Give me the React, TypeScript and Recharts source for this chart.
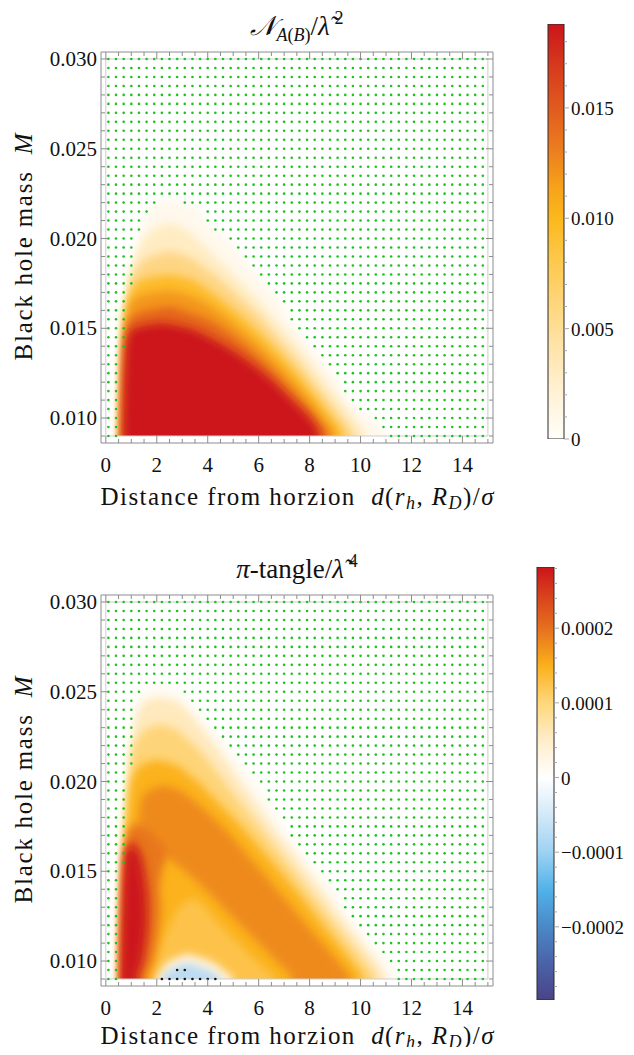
import { ComposedChart, Area, Scatter, XAxis, YAxis, ReferenceArea, BarChart, Bar } from 'recharts'

const SERIF = "'Liberation Serif', 'DejaVu Serif', serif"
const FRAME = '#8c8c8c'
const INK = '#111'

// axes shared by both density panels (frame padding included)
const dDomain = [-0.19, 15.2]
const mDomain = [0.00861, 0.03039]
const dRange = [0, 15]
const mRange = [0.009, 0.03]
const dTicks = [0, 0.5, 1, 1.5, 2, 2.5, 3, 3.5, 4, 4.5, 5, 5.5, 6, 6.5, 7, 7.5, 8, 8.5, 9, 9.5, 10, 10.5, 11, 11.5, 12, 12.5, 13, 13.5, 14, 14.5, 15]
const dMajor = [0, 2, 4, 6, 8, 10, 12, 14]
const mTicks = [0.009, 0.01, 0.011, 0.012, 0.013, 0.014, 0.015, 0.016, 0.017, 0.018, 0.019, 0.02, 0.021, 0.022, 0.023, 0.024, 0.025, 0.026, 0.027, 0.028, 0.029, 0.03]
const mMajor = [0.01, 0.015, 0.02, 0.025, 0.03]

// sampling grid of the scan
const gridD = [0.1, 0.4, 0.7, 1.0, 1.3, 1.6, 1.9, 2.2, 2.5, 2.8, 3.1, 3.4, 3.7, 4.0, 4.3, 4.6, 4.9, 5.2, 5.5, 5.8, 6.1, 6.4, 6.7, 7.0, 7.3, 7.6, 7.9, 8.2, 8.5, 8.8, 9.1, 9.4, 9.7, 10.0, 10.3, 10.6, 10.9, 11.2, 11.5, 11.8, 12.1, 12.4, 12.7, 13.0, 13.3, 13.6, 13.9, 14.2, 14.5, 14.8]
const gridM = [0.009, 0.0095, 0.01, 0.0105, 0.011, 0.0115, 0.012, 0.0125, 0.013, 0.0135, 0.014, 0.0145, 0.015, 0.0155, 0.016, 0.0165, 0.017, 0.0175, 0.018, 0.0185, 0.019, 0.0195, 0.02, 0.0205, 0.021, 0.0215, 0.022, 0.0225, 0.023, 0.0235, 0.024, 0.0245, 0.025, 0.0255, 0.026, 0.0265, 0.027, 0.0275, 0.028, 0.0285, 0.029, 0.0295, 0.03]

// rows: [M, left d, right d] of the region above a level
type Row = number[]

// negativity N_A(B)/λ²
const nOuter: Row[] = [
  [0.009, 0.52, 11.05], [0.0095, 0.53, 10.75], [0.01, 0.54, 10.45], [0.0105, 0.55, 9.85],
  [0.011, 0.56, 9.55], [0.0115, 0.57, 9.3], [0.012, 0.58, 9.2], [0.0125, 0.6, 8.95],
  [0.013, 0.62, 8.65], [0.0135, 0.65, 8.35], [0.014, 0.72, 8.05], [0.0145, 0.74, 7.75],
  [0.015, 0.76, 7.45], [0.0155, 0.79, 7.2], [0.016, 0.82, 7.05], [0.0165, 0.86, 6.85],
  [0.017, 0.9, 6.55], [0.0175, 1.02, 6.25], [0.018, 1.05, 5.95], [0.0185, 1.1, 5.65],
  [0.019, 1.16, 5.35], [0.0195, 1.22, 5.05], [0.02, 1.28, 4.75], [0.0205, 1.36, 4.2],
  [0.021, 1.48, 3.9], [0.0215, 1.62, 3.75], [0.022, 2.05, 3.0], [0.0222, 2.5, 2.5],
]
const n003: Row[] = [
  [0.009, 0.55, 10.2], [0.01, 0.56, 9.75], [0.011, 0.58, 9.2], [0.012, 0.6, 8.65], [0.013, 0.62, 8.1],
  [0.014, 0.65, 7.55], [0.015, 0.69, 6.95], [0.016, 0.74, 6.35], [0.017, 0.82, 5.7], [0.018, 0.95, 5.0],
  [0.019, 1.15, 4.3], [0.02, 1.5, 3.55], [0.0205, 1.85, 3.15], [0.0209, 2.5, 2.5],
]
const n006: Row[] = [
  [0.009, 0.57, 9.75], [0.01, 0.58, 9.3], [0.011, 0.6, 8.75], [0.012, 0.62, 8.2], [0.013, 0.64, 7.65],
  [0.014, 0.67, 7.05], [0.015, 0.71, 6.45], [0.016, 0.77, 5.8], [0.017, 0.87, 5.05], [0.018, 1.05, 4.25],
  [0.0185, 1.3, 3.75], [0.019, 1.75, 3.2], [0.0193, 2.5, 2.5],
]
const n009: Row[] = [
  [0.009, 0.59, 9.35], [0.01, 0.6, 8.9], [0.011, 0.62, 8.35], [0.012, 0.64, 7.8], [0.013, 0.67, 7.2],
  [0.014, 0.7, 6.55], [0.015, 0.74, 5.85], [0.016, 0.82, 5.05], [0.017, 0.98, 4.15], [0.0175, 1.2, 3.65],
  [0.0178, 1.6, 3.2], [0.018, 2.5, 2.5],
]
const n012: Row[] = [
  [0.009, 0.61, 9.0], [0.01, 0.62, 8.55], [0.011, 0.64, 8.0], [0.012, 0.66, 7.4], [0.013, 0.69, 6.75],
  [0.014, 0.72, 6.05], [0.015, 0.77, 5.25], [0.016, 0.88, 4.35], [0.0165, 1.0, 3.8], [0.0169, 1.5, 3.1],
  [0.0171, 2.5, 2.5],
]
const n015: Row[] = [
  [0.009, 0.63, 8.7], [0.01, 0.64, 8.25], [0.011, 0.66, 7.65], [0.012, 0.68, 7.0], [0.013, 0.71, 6.3],
  [0.014, 0.75, 5.5], [0.015, 0.82, 4.55], [0.0155, 0.95, 3.95], [0.0159, 1.4, 3.2], [0.0162, 2.5, 2.5],
]
const n0188: Row[] = [
  [0.009, 0.66, 8.38], [0.01, 0.67, 8.0], [0.011, 0.69, 7.3], [0.012, 0.71, 6.6], [0.013, 0.74, 5.75],
  [0.014, 0.79, 4.7], [0.0145, 0.85, 4.05], [0.0149, 1.0, 3.45], [0.0151, 1.35, 3.0], [0.0153, 2.2, 2.2],
]
const nLevels = [nOuter, n003, n006, n009, n012, n015, n0188]
const nColors = ['#fff8ec', '#ffecc2', '#fed585', '#fdbb2a', '#f3961d', '#e4631f', '#cc141a']

// π-tangle/λ⁴
const piOuter: Row[] = [
  [0.009, 0.5, 11.35], [0.0095, 0.5, 11.35], [0.01, 0.51, 11.05], [0.0105, 0.51, 10.75],
  [0.011, 0.52, 10.45], [0.0115, 0.53, 10.15], [0.012, 0.54, 9.85], [0.0125, 0.55, 9.55],
  [0.013, 0.56, 9.3], [0.0135, 0.58, 9.25], [0.014, 0.59, 8.95], [0.0145, 0.61, 8.65],
  [0.015, 0.63, 8.35], [0.0155, 0.72, 8.05], [0.016, 0.74, 7.75], [0.0165, 0.76, 7.5],
  [0.017, 0.78, 7.25], [0.0175, 0.8, 7.0], [0.018, 0.83, 6.8], [0.0185, 0.86, 6.55],
  [0.019, 0.89, 6.35], [0.0195, 0.92, 6.1], [0.02, 0.96, 5.9], [0.0205, 1.0, 5.6],
  [0.021, 1.03, 5.35], [0.0215, 1.05, 5.05], [0.022, 1.06, 4.75], [0.0225, 1.07, 4.45],
  [0.023, 1.08, 4.15], [0.0235, 1.1, 3.85], [0.024, 1.12, 3.55], [0.0245, 1.2, 3.25],
  [0.025, 1.35, 2.95], [0.0253, 2.1, 2.1],
]
const pi00005: Row[] = [
  [0.009, 0.53, 11.0], [0.01, 0.54, 10.6], [0.011, 0.55, 10.05], [0.012, 0.57, 9.5], [0.013, 0.59, 8.95],
  [0.014, 0.62, 8.45], [0.015, 0.65, 7.9], [0.016, 0.7, 7.35], [0.017, 0.74, 6.8], [0.018, 0.78, 6.3],
  [0.019, 0.82, 5.8], [0.02, 0.87, 5.3], [0.021, 0.93, 4.8], [0.022, 1.0, 4.3], [0.023, 1.1, 3.75],
  [0.024, 1.3, 3.15], [0.0245, 1.6, 2.7], [0.0247, 2.1, 2.1],
]
const pi0001: Row[] = [
  [0.009, 0.55, 10.6], [0.01, 0.56, 10.15], [0.011, 0.58, 9.6], [0.012, 0.6, 9.05], [0.013, 0.62, 8.5],
  [0.014, 0.65, 7.95], [0.015, 0.68, 7.4], [0.016, 0.72, 6.85], [0.017, 0.76, 6.3], [0.018, 0.8, 5.75],
  [0.019, 0.85, 5.2], [0.02, 0.9, 4.65], [0.021, 0.97, 4.1], [0.022, 1.1, 3.5], [0.0225, 1.3, 3.1],
  [0.023, 1.7, 2.6], [0.0232, 2.1, 2.1],
]
const pi00015: Row[] = [
  [0.009, 0.57, 10.1], [0.01, 0.58, 9.65], [0.011, 0.6, 9.1], [0.012, 0.62, 8.55], [0.013, 0.64, 8.0],
  [0.014, 0.67, 7.45], [0.015, 0.7, 6.85], [0.016, 0.74, 6.25], [0.017, 0.79, 5.65], [0.018, 0.84, 5.0],
  [0.019, 0.9, 4.3], [0.02, 1.0, 3.6], [0.0205, 1.15, 3.15], [0.021, 1.5, 2.6], [0.0212, 2.0, 2.0],
]
// dip between the streak and the ridge near the lightest masses
const piValley: Row[] = [
  [0.009, 1.8, 6.6], [0.01, 2.0, 5.9], [0.011, 2.2, 5.2], [0.012, 2.5, 4.5], [0.013, 2.9, 3.9], [0.0135, 3.3, 3.5],
]
const piValleyLow: Row[] = [
  [0.009, 2.0, 5.0], [0.0095, 2.2, 4.6], [0.01, 2.5, 4.1], [0.0104, 3.2, 3.2],
]
const piNegative: Row[] = [
  [0.009, 2.2, 4.5], [0.0095, 2.5, 4.0], [0.0099, 3.2, 3.2],
]
const piRidge: Row[] = [
  [0.009, 7.3, 9.6], [0.01, 6.7, 9.1], [0.011, 6.0, 8.5], [0.012, 5.3, 7.9], [0.013, 4.6, 7.3],
  [0.014, 3.9, 6.7], [0.015, 3.1, 6.1], [0.016, 2.2, 5.5], [0.017, 1.5, 4.9], [0.018, 1.3, 4.2],
  [0.019, 1.4, 3.4], [0.0195, 1.7, 2.9], [0.0198, 2.3, 2.3],
]
const piStreak: Row[] = [
  [0.009, 0.6, 1.6], [0.01, 0.61, 1.85], [0.011, 0.62, 2.0], [0.012, 0.64, 2.1], [0.013, 0.66, 2.15],
  [0.014, 0.69, 2.1], [0.015, 0.72, 2.2], [0.016, 0.76, 2.4], [0.017, 0.82, 1.9], [0.0175, 1.0, 1.5],
  [0.0177, 1.2, 1.2],
]
const piStreak25: Row[] = [
  [0.009, 0.62, 1.3], [0.01, 0.63, 1.5], [0.011, 0.64, 1.62], [0.012, 0.66, 1.7], [0.013, 0.68, 1.72],
  [0.014, 0.7, 1.68], [0.015, 0.73, 1.58], [0.016, 0.78, 1.42], [0.0168, 1.05, 1.1],
]
const piStreakTop: Row[] = [
  [0.009, 0.63, 1.15], [0.01, 0.64, 1.35], [0.011, 0.65, 1.45], [0.012, 0.67, 1.52], [0.013, 0.69, 1.52],
  [0.014, 0.71, 1.47], [0.015, 0.75, 1.37], [0.016, 0.82, 1.18], [0.0164, 0.98, 0.98],
]
const piLevels = [piOuter, pi00005, pi0001, pi00015, piValley, piValleyLow, piNegative, piRidge, piStreak, piStreak25, piStreakTop]
const piColors = ['#fffaf1', '#ffe9bd', '#fed478', '#fbb21c', '#fdc24a', '#fff3dc', '#bcdcf3', '#ee8a1e', '#e8761f', '#d8401d', '#cc141a']
// grid points where the π-tangle is negative
const piNegD = [2.2, 2.5, 2.8, 3.1, 3.4, 3.7, 4.0, 4.3, 2.8, 3.1]
const piNegM = [0.009, 0.009, 0.009, 0.009, 0.009, 0.009, 0.009, 0.009, 0.0095, 0.0095]

// colour bars
const nScale = [0, 0.0188]
const nScaleTicks = [0, 0.001, 0.002, 0.003, 0.004, 0.005, 0.006, 0.007, 0.008, 0.009, 0.01, 0.011, 0.012, 0.013, 0.014, 0.015, 0.016, 0.017, 0.018]
const nScaleLabels: [number, string][] = [[0, '0'], [0.005, '0.005'], [0.01, '0.010'], [0.015, '0.015']]
const nStops: [number, string][] = [
  [0.0188, '#cc141a'], [0.017, '#d6381d'], [0.015, '#e15a1f'], [0.013, '#ec801e'], [0.0115, '#f6a01b'],
  [0.01, '#fcb81c'], [0.008, '#fdc94e'], [0.006, '#fed77f'], [0.004, '#ffe5ad'], [0.002, '#fff2d7'], [0, '#fffefa'],
]
const piScale = [-0.000298, 0.000282]
const piScaleTicks = [-0.00028, -0.00026, -0.00024, -0.00022, -0.0002, -0.00018, -0.00016, -0.00014, -0.00012, -0.0001, -0.00008, -0.00006, -0.00004, -0.00002, 0, 0.00002, 0.00004, 0.00006, 0.00008, 0.0001, 0.00012, 0.00014, 0.00016, 0.00018, 0.0002, 0.00022, 0.00024, 0.00026, 0.00028]
const piScaleLabels: [number, string][] = [[-0.0002, '\u22120.0002'], [-0.0001, '\u22120.0001'], [0, '0'], [0.0001, '0.0001'], [0.0002, '0.0002']]
const piStops: [number, string][] = [
  [0.000282, '#cc141a'], [0.00025, '#d63a1d'], [0.0002, '#e6701f'], [0.00015, '#fbb01b'], [0.0001, '#fed77c'],
  [0.00005, '#ffedc9'], [0, '#ffffff'], [-0.00005, '#d3e9f8'], [-0.0001, '#9dd2f2'], [-0.00015, '#52b2e9'],
  [-0.0002, '#4a88c6'], [-0.00025, '#4a62a8'], [-0.000298, '#4a4388'],
]

const near = (a: number, b: number) => Math.abs(a - b) < 1e-9
const has = (list: number[], v: number) => list.some(x => near(x, v))

// lowest row is pushed below the frame so the blur keeps a hard bottom edge
const toData = (rows: Row[]) =>
  [[mDomain[0] - 0.0004, rows[0][1], rows[0][2]], ...rows].map(([M, L, R]) => ({ M, span: [L, R] }))

const maskData = [
  { M: mDomain[0] - 0.0004, span: dDomain },
  { M: mRange[0], span: dDomain },
]

// green markers on every grid point outside the non-zero region
function zeroPoints(outer: Row[]) {
  const pts: { d: number; M: number }[] = []
  gridM.forEach(M => {
    const row = outer.find(r => Math.abs(r[0] - M) < 1e-7)
    gridD.forEach(d => {
      if (!row || d < row[1] || d > row[2]) pts.push({ d, M })
    })
  })
  return pts
}

const dotShape = (color: string) => (p: any) => <circle cx={p.cx} cy={p.cy} r={1.3} fill={color} />

const dTick = (labels: boolean, dir: number) => (p: any) => {
  const v = p.payload.value
  const major = has(dMajor, v)
  return (
    <g>
      <line x1={p.x} x2={p.x} y1={p.y} y2={p.y - dir * (major ? 7 : 4)} stroke={FRAME} />
      {labels && major && (
        <text x={p.x} y={p.y + 29} textAnchor="middle" fontFamily={SERIF} fontSize={21} fill={INK}>{v}</text>
      )}
    </g>
  )
}

const mTick = (labels: boolean, dir: number) => (p: any) => {
  const v = p.payload.value
  const major = has(mMajor, v)
  return (
    <g>
      <line x1={p.x} x2={p.x + dir * (major ? 7 : 4)} y1={p.y} y2={p.y} stroke={FRAME} />
      {labels && major && (
        <text x={p.x - 4} y={p.y + 7} textAnchor="end" fontFamily={SERIF} fontSize={21} fill={INK}>{v.toFixed(3)}</text>
      )}
    </g>
  )
}

function DensityPanel({ id, top, levels, colors, outer, negD = [], negM = [] }: any) {
  const zeros = zeroPoints(outer)
  const negatives = negD.map((d: number, i: number) => ({ d, M: negM[i] }))
  return (
    <div style={{ position: 'absolute', left: 0, top }}>
      <ComposedChart layout="vertical" width={634} height={500} margin={{ top: 51, right: 140, bottom: 17, left: 41 }}>
        <defs>
          <filter id={`soft-${id}`} x="-50%" y="-50%" width="200%" height="200%">
            <feGaussianBlur stdDeviation={4} />
          </filter>
        </defs>
        {levels.map((rows: Row[], i: number) => (
          <Area key={i} data={toData(rows)} dataKey="span" type="monotone" fill={colors[i]} fillOpacity={1}
            stroke="none" filter={`url(#soft-${id})`} isAnimationActive={false} />
        ))}
        <Area data={maskData} dataKey="span" type="linear" fill="#ffffff" fillOpacity={1} stroke="none" isAnimationActive={false} />
        <ReferenceArea x1={dRange[0]} x2={dRange[1]} y1={mRange[0]} y2={mRange[1]} fill="none" stroke="#cdcdcd" strokeWidth={1} ifOverflow="visible" />
        <Scatter data={zeros} shape={dotShape('#1fc21f')} isAnimationActive={false} />
        {negatives.length > 0 && <Scatter data={negatives} shape={dotShape('#111')} isAnimationActive={false} />}
        <XAxis type="number" dataKey="d" domain={dDomain} ticks={dTicks} interval={0} allowDataOverflow height={40}
          axisLine={{ stroke: FRAME }} tickLine={false} tickSize={0} tickMargin={0} tick={dTick(true, 1)} />
        <XAxis xAxisId="top" orientation="top" type="number" dataKey="d" domain={dDomain} ticks={dTicks} interval={0}
          allowDataOverflow height={1} axisLine={{ stroke: FRAME }} tickLine={false} tickSize={0} tickMargin={0} tick={dTick(false, -1)} />
        <YAxis type="number" dataKey="M" domain={mDomain} ticks={mTicks} interval={0} reversed allowDataOverflow width={60}
          axisLine={{ stroke: FRAME }} tickLine={false} tickSize={0} tickMargin={0} tick={mTick(true, 1)} />
        <YAxis yAxisId="right" orientation="right" type="number" dataKey="M" domain={mDomain} ticks={mTicks} interval={0}
          reversed allowDataOverflow width={1} axisLine={{ stroke: FRAME }} tickLine={false} tickSize={0} tickMargin={0} tick={mTick(false, -1)} />
      </ComposedChart>
    </div>
  )
}

function ColorBar({ id, range, ticks, labels, stops, margin }: any) {
  const data = [{ name: id, span: range }]
  const labelOf = (v: number) => labels.find((l: [number, string]) => near(l[0], v))
  const tick = (p: any) => {
    const lab = labelOf(p.payload.value)
    return (
      <g>
        <line x1={p.x} x2={p.x + (lab ? 5 : 3)} y1={p.y} y2={p.y} stroke="#a8a8a8" />
        {lab && <text x={p.x + 7} y={p.y + 7} fontFamily={SERIF} fontSize={19} fill={INK}>{lab[1]}</text>}
      </g>
    )
  }
  return (
    <div style={{ position: 'absolute', left: 0, top: 0 }}>
      <BarChart width={634} height={1055} data={data} margin={margin} barCategoryGap={0}>
        <defs>
          <linearGradient id={id} x1="0" y1="0" x2="0" y2="1">
            {stops.map(([v, c]: [number, string], i: number) => (
              <stop key={i} offset={(range[1] - v) / (range[1] - range[0])} stopColor={c} />
            ))}
          </linearGradient>
        </defs>
        <XAxis dataKey="name" hide />
        <YAxis orientation="right" type="number" domain={range} ticks={ticks} interval={0} width={70} allowDataOverflow
          axisLine={false} tickLine={false} tickSize={0} tickMargin={0} tick={tick} />
        <Bar dataKey="span" fill={`url(#${id})`} stroke="#2a2a2a" strokeWidth={1} isAnimationActive={false} />
      </BarChart>
    </div>
  )
}

const sub = { fontSize: 18 }

function Labels({ dy, base }: { dy: number; base: number }) {
  return (
    <g>
      <text x={297} y={base} textAnchor="middle" fontFamily={SERIF} fontSize={25} fill={INK} style={{ whiteSpace: 'pre' }}
        textLength={393} lengthAdjust="spacing">
        <tspan>Distance from horzion  </tspan>
        <tspan fontStyle="italic">d</tspan>
        <tspan>(</tspan>
        <tspan fontStyle="italic">r</tspan>
        <tspan fontStyle="italic" {...sub} dy={4}>h</tspan>
        <tspan dy={-4}>, </tspan>
        <tspan fontStyle="italic">R</tspan>
        <tspan fontStyle="italic" {...sub} dy={4}>D</tspan>
        <tspan dy={-4}>)/</tspan>
        <tspan fontStyle="italic">σ</tspan>
      </text>
      <text transform={`translate(32 ${247 + dy}) rotate(-90)`} textAnchor="middle" fontFamily={SERIF} fontSize={25} fill={INK}
        style={{ whiteSpace: 'pre' }} textLength={227} lengthAdjust="spacing">
        <tspan>Black hole mass  </tspan>
        <tspan fontStyle="italic">M</tspan>
      </text>
    </g>
  )
}

export default function App() {
  return (
    <div style={{ position: 'relative', width: 634, height: 1055, margin: -8, background: '#fff', overflow: 'hidden' }}>
      <DensityPanel id="neg" top={0} levels={nLevels} colors={nColors} outer={nOuter} />
      <DensityPanel id="pi" top={543} levels={piLevels} colors={piColors} outer={piOuter} negD={piNegD} negM={piNegM} />
      <ColorBar id="negScale" range={nScale} ticks={nScaleTicks} labels={nScaleLabels} stops={nStops}
        margin={{ top: 24, right: 0, bottom: 616, left: 548 }} />
      <ColorBar id="piScale" range={piScale} ticks={piScaleTicks} labels={piScaleLabels} stops={piStops}
        margin={{ top: 567, right: 10, bottom: 55, left: 537 }} />
      <svg width={634} height={1055} style={{ position: 'absolute', left: 0, top: 0, pointerEvents: 'none' }}>
        <text x={297} y={35} textAnchor="middle" fontFamily={SERIF} fontSize={27} fill={INK}>
          <tspan fontStyle="italic">𝒩</tspan>
          <tspan fontStyle="italic" fontSize={18} dy={6}>A</tspan>
          <tspan fontSize={18}>(</tspan>
          <tspan fontStyle="italic" fontSize={18}>B</tspan>
          <tspan fontSize={18}>)</tspan>
          <tspan dy={-6}>/</tspan>
          <tspan fontStyle="italic">{'\u03bb\u0303'}</tspan>
          <tspan fontSize={18} dx={5} dy={-11}>2</tspan>
        </text>
        <text x={297} y={578} textAnchor="middle" fontFamily={SERIF} fontSize={27} fill={INK}>
          <tspan fontStyle="italic">π</tspan>
          <tspan>-tangle/</tspan>
          <tspan fontStyle="italic">{'\u03bb\u0303'}</tspan>
          <tspan fontSize={18} dx={5} dy={-11}>4</tspan>
        </text>
        <Labels dy={0} base={505} />
        <Labels dy={543} base={1044} />
      </svg>
    </div>
  )
}
